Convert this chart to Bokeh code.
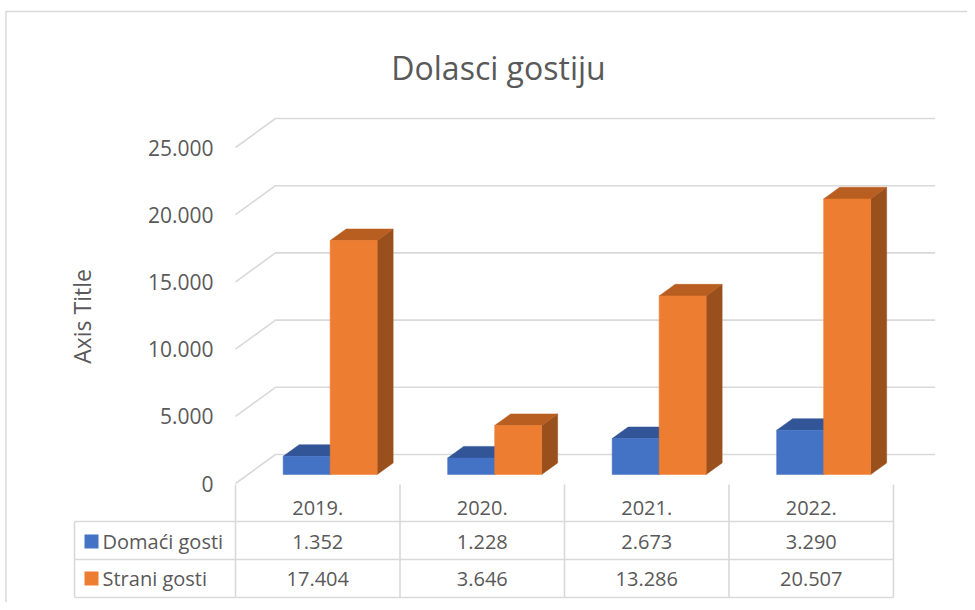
import math
from bokeh.plotting import figure
from bokeh.models import Range1d
from bokeh.core.properties import value
from bokeh.embed import file_html
from bokeh.resources import INLINE

# ---- data ----
years = ["2019.", "2020.", "2021.", "2022."]
domaci = [1352, 1228, 2673, 3290]
strani = [17404, 3646, 13286, 20507]
series_names = ["Domaći gosti", "Strani gosti"]
y_ticks = [0, 5000, 10000, 15000, 20000, 25000]
chart_title = "Dolasci gostiju"
axis_title = "Axis Title"

# ---- styling / layout ----
W, H = 967, 602
ORG = 0                # picture coordinate of the figure's top-left corner
FONT = value("Open Sans")
TXT = "#595959"
GRID = "#D9D9D9"
BLUE, BLUE_TOP, BLUE_SIDE = "#4472C4", "#325598", "#2A4A86"
ORANGE, ORANGE_TOP, ORANGE_SIDE = "#ED7D31", "#B85E20", "#9A501D"

PXX = 164.5            # pixels per category
X0 = 235.0             # picture x of category 0 on front plane
UPY = 5000 / 67.2      # value units per pixel
Y0 = 483.0             # picture y of value 0 on front plane


def px_x(px):
    return (px - X0) / PXX


def px_y(py):
    return (Y0 - py) * UPY


DX = 40 / PXX          # full depth offset (x)
DY = 29 * UPY          # full depth offset (y)
D1, D2 = 0.31, 0.71    # bar depth range
BW = 47 / PXX          # bar width


def proj(x, v, d):
    return x + d * DX, v + d * DY


p = figure(width=W, height=H, output_backend="svg", toolbar_location=None,
           x_range=Range1d(px_x(ORG), px_x(ORG + W)),
           y_range=Range1d(px_y(ORG + H), px_y(ORG)),
           x_axis_type=None, y_axis_type=None, min_border=0)
p.grid.visible = False
p.outline_line_color = None
p.background_fill_color = "white"
p.border_fill_color = "white"

# outer chart border (top & left; rest outside the window)
p.line([px_x(5.5), px_x(5.5), px_x(ORG + W)], [px_y(ORG + H), px_y(11), px_y(11)],
       line_color=GRID, line_width=1.5)

# back wall + side wall gridlines
n = len(years)
gx, gy = [], []
for v in y_ticks:
    a = proj(0, v, 0)
    b = proj(0, v, 1)
    c = proj(n + 0.01, v, 1)
    gx.append([a[0], b[0], c[0]])
    gy.append([a[1], b[1], c[1]])
p.multi_line(gx, gy, line_color=GRID, line_width=1.6)


def draw_bar(xl, xr, val, front, top, side):
    s = [proj(xr, 0, D1), proj(xr, val, D1), proj(xr, val, D2), proj(xr, 0, D2)]
    p.patch([q[0] for q in s], [q[1] for q in s], fill_color=side, line_color=side, line_width=0.5)
    t = [proj(xl, val, D1), proj(xr, val, D1), proj(xr, val, D2), proj(xl, val, D2)]
    p.patch([q[0] for q in t], [q[1] for q in t], fill_color=top, line_color=top, line_width=0.5)
    f = [proj(xl, 0, D1), proj(xr, 0, D1), proj(xr, val, D1), proj(xl, val, D1)]
    p.patch([q[0] for q in f], [q[1] for q in f], fill_color=front, line_color=front, line_width=0.5)


for i in range(n):
    c = i + 0.5
    draw_bar(c - BW, c, domaci[i], BLUE, BLUE_TOP, BLUE_SIDE)
    draw_bar(c, c + BW, strani[i], ORANGE, ORANGE_TOP, ORANGE_SIDE)


def fmt(v):
    return f"{v:,}".replace(",", ".")


# y tick labels
p.text(x=[px_x(213)] * len(y_ticks), y=y_ticks, text=[fmt(v) for v in y_ticks],
       text_font=FONT, text_font_size="21px", text_color=TXT,
       text_align="right", text_baseline="middle")

# axis title
p.text(x=[px_x(81)], y=[px_y(316)], text=[axis_title], angle=math.pi / 2,
       text_font=FONT, text_font_size="23px", text_color=TXT,
       text_align="center", text_baseline="middle")

# chart title
p.text(x=[px_x(498)], y=[px_y(67)], text=[chart_title],
       text_font=FONT, text_font_size="32px", text_color=TXT,
       text_align="center", text_baseline="alphabetic")

# data table grid
hx, hy = [], []
for py in (521, 559, 597):
    hx.append([px_x(74), n])
    hy.append([px_y(py), px_y(py)])
hx.append([px_x(74), px_x(74)])
hy.append([px_y(521), px_y(597)])
for i in range(n + 1):
    hx.append([i, i])
    hy.append([px_y(484), px_y(597)])
p.multi_line(hx, hy, line_color=GRID, line_width=1.6)

centers = [i + 0.5 for i in range(n)]
p.text(x=centers, y=[px_y(507)] * n, text=years, text_font=FONT, text_font_size="20px",
       text_color=TXT, text_align="center", text_baseline="middle")
p.text(x=centers, y=[px_y(541)] * n, text=[fmt(v) for v in domaci], text_font=FONT,
       text_font_size="20px", text_color=TXT, text_align="center", text_baseline="middle")
p.text(x=centers, y=[px_y(578)] * n, text=[fmt(v) for v in strani], text_font=FONT,
       text_font_size="20px", text_color=TXT, text_align="center", text_baseline="middle")

# legend keys in table
p.scatter(x=[px_x(91)] * 2, y=[px_y(541), px_y(578)], marker="square", size=14,
          fill_color=[BLUE, ORANGE], line_color=None)
p.text(x=[px_x(102)] * 2, y=[px_y(541), px_y(578)], text=series_names, text_font=FONT,
       text_font_size="20px", text_color=TXT, text_align="left", text_baseline="middle")

open("out.html", "w").write(file_html(p, INLINE))
